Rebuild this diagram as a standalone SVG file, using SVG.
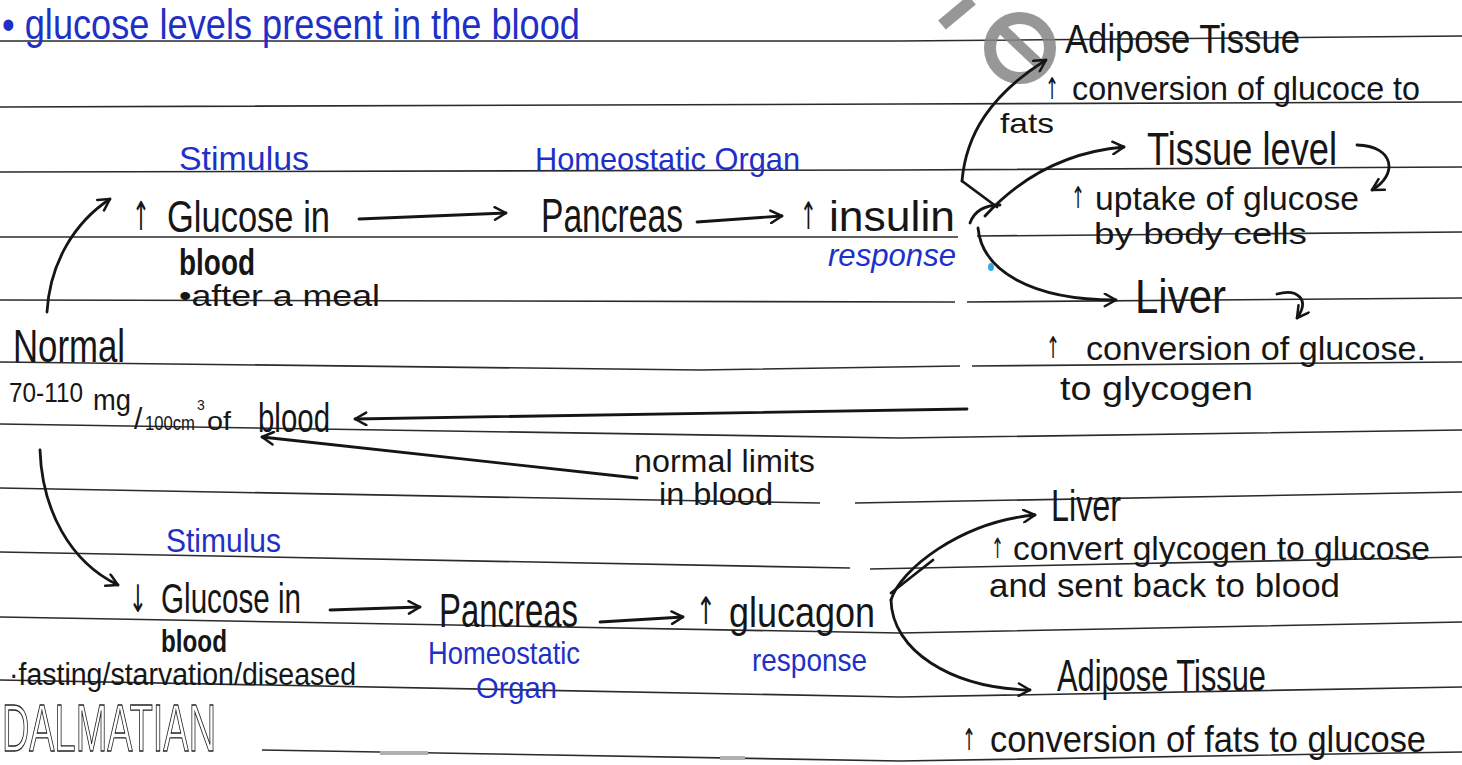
<svg xmlns="http://www.w3.org/2000/svg" width="1462" height="765" viewBox="0 0 1462 765">
<defs>
<marker id="ah" viewBox="0 0 12 12" refX="10.5" refY="6" markerWidth="15" markerHeight="15" markerUnits="userSpaceOnUse" orient="auto">
<path d="M1.5,1 L10.5,6 L1.5,11" fill="none" stroke="#151515" stroke-width="2" stroke-linecap="round" stroke-linejoin="round"/>
</marker>
<style>
.rule{fill:none;stroke:#2b2b2b;stroke-width:1.6}
.c{fill:none;stroke:#151515;stroke-width:2.8;stroke-linecap:round;stroke-linejoin:round}
.ca{fill:none;stroke:#151515;stroke-width:2.8;stroke-linecap:round;stroke-linejoin:round;marker-end:url(#ah)}
text{font-family:"Liberation Sans","DejaVu Sans",sans-serif}
text.ar{font-family:"DejaVu Sans",sans-serif;fill:#161616}
.k{fill:#161616}
.b{fill:#1e30c6}
.bi{fill:#1e30c6;font-style:italic}
</style>
</defs>
<rect width="1462" height="765" fill="#ffffff"/>

<g id="ruled-lines">
<polyline class="rule" points="0,41 900,41 1462,36"/>
<polyline class="rule" points="0,107 900,104 1462,102"/>
<polyline class="rule" points="0,172 900,170 1462,167"/>
<polyline class="rule" points="0,237 958,237"/>
<polyline class="rule" points="977,236 1462,232"/>
<polyline class="rule" points="0,300 955,302"/>
<polyline class="rule" points="967,302 1462,298"/>
<polyline class="rule" points="0,362 700,370 960,366"/>
<polyline class="rule" points="972,366 1462,362"/>
<polyline class="rule" points="0,424 900,438 1462,430"/>
<polyline class="rule" points="0,488 820,503"/>
<polyline class="rule" points="855,503 1462,492"/>
<polyline class="rule" points="0,552 850,568"/>
<polyline class="rule" points="870,569 1462,557"/>
<polyline class="rule" points="0,617 900,633 1462,622"/>
<polyline class="rule" points="0,680 900,697 1462,687"/>
<polyline class="rule" points="262,750 900,761 1462,752"/>
<rect x="380" y="751" width="48" height="4" fill="#b0b0b0"/>
<rect x="720" y="756" width="25" height="4" fill="#b0b0b0"/>
</g>

<g id="watermark" opacity="0.85">
<line x1="942" y1="25" x2="972" y2="0" stroke="#858585" stroke-width="12"/>
<circle cx="1020" cy="48" r="30" fill="none" stroke="#858585" stroke-width="12"/>
<line x1="1001" y1="28" x2="1041" y2="66" stroke="#858585" stroke-width="11"/>
</g>

<g id="connectors">
<path class="ca" d="M47,312 C50,262 75,222 110,199"/>
<path class="ca" d="M40,450 C42,510 70,562 118,585"/>
<path class="ca" d="M359,219 L506,213"/>
<path class="ca" d="M697,222 L782,216"/>
<path class="c" d="M997,207 L962,181"/>
<path class="ca" d="M962,181 C966,135 990,95 1046,60"/>
<path class="ca" d="M985,216 C1020,178 1065,152 1124,147"/>
<path class="c" d="M970,223 C974,212 984,205 1000,205"/>
<path class="ca" d="M978,228 C982,270 1030,300 1116,300"/>
<path class="ca" d="M1357,145 C1395,146 1398,175 1372,190"/>
<path class="ca" d="M1277,294 C1298,288 1310,300 1297,318"/>
<path class="ca" d="M967,409 L355,419"/>
<path class="ca" d="M637,478 L262,437"/>
<path class="ca" d="M330,610 L420,607"/>
<path class="ca" d="M600,622 L683,617"/>
<path class="c" d="M933,560 L891,593"/>
<path class="ca" d="M891,600 C900,570 960,522 1035,515"/>
<path class="ca" d="M891,600 C892,650 950,688 1030,690"/>
<ellipse cx="991" cy="267" rx="3" ry="4" fill="#3aa8e0"/>
</g>

<g id="title">
<text class="b" x="2" y="39" font-size="42" textLength="578" lengthAdjust="spacingAndGlyphs">• glucose levels present in the blood</text>
</g>

<g id="stimulus-high">
<text class="b" x="179" y="170" font-size="34" textLength="130" lengthAdjust="spacingAndGlyphs">Stimulus</text>
<text class="ar" x="132" y="230" font-size="40" textLength="18" lengthAdjust="spacingAndGlyphs">↑</text>
<text class="k" x="167" y="232" font-size="44" textLength="163" lengthAdjust="spacingAndGlyphs">Glucose in</text>
<text class="k" x="179" y="275" font-size="36" font-weight="bold" textLength="76" lengthAdjust="spacingAndGlyphs">blood</text>
<text class="k" x="179" y="306" font-size="30" textLength="201" lengthAdjust="spacingAndGlyphs">•after a meal</text>
</g>

<g id="pancreas-high">
<text class="b" x="535" y="170" font-size="32" textLength="265" lengthAdjust="spacingAndGlyphs">Homeostatic Organ</text>
<text class="k" x="541" y="232" font-size="48" textLength="142" lengthAdjust="spacingAndGlyphs">Pancreas</text>
</g>

<g id="insulin">
<text class="ar" x="800" y="229" font-size="38" textLength="17" lengthAdjust="spacingAndGlyphs">↑</text>
<text class="k" x="829" y="231" font-size="42" textLength="126" lengthAdjust="spacingAndGlyphs">insulin</text>
<text class="bi" x="828" y="266" font-size="32" textLength="128" lengthAdjust="spacingAndGlyphs">response</text>
</g>

<g id="adipose-high">
<text class="k" x="1065" y="53" font-size="40" textLength="235" lengthAdjust="spacingAndGlyphs">Adipose Tissue</text>
<text class="ar" x="1045" y="99" font-size="30" textLength="14" lengthAdjust="spacingAndGlyphs">↑</text>
<text class="k" x="1072" y="100" font-size="34" textLength="348" lengthAdjust="spacingAndGlyphs">conversion of glucoce to</text>
<text class="k" x="1000" y="133" font-size="28" textLength="54" lengthAdjust="spacingAndGlyphs">fats</text>
</g>

<g id="tissue-level">
<text class="k" x="1147" y="165" font-size="46" textLength="190" lengthAdjust="spacingAndGlyphs">Tissue level</text>
<text class="ar" x="1071" y="208" font-size="30" textLength="14" lengthAdjust="spacingAndGlyphs">↑</text>
<text class="k" x="1095" y="210" font-size="34" textLength="264" lengthAdjust="spacingAndGlyphs">uptake of glucose</text>
<text class="k" x="1094" y="244" font-size="30" textLength="213" lengthAdjust="spacingAndGlyphs">by body cells</text>
</g>

<g id="liver-high">
<text class="k" x="1135" y="313" font-size="48" textLength="91" lengthAdjust="spacingAndGlyphs">Liver</text>
<text class="ar" x="1046" y="358" font-size="30" textLength="14" lengthAdjust="spacingAndGlyphs">↑</text>
<text class="k" x="1086" y="360" font-size="34" textLength="340" lengthAdjust="spacingAndGlyphs">conversion of glucose.</text>
<text class="k" x="1060" y="400" font-size="34" textLength="193" lengthAdjust="spacingAndGlyphs">to glycogen</text>
</g>

<g id="normal">
<text class="k" x="13" y="362" font-size="46" textLength="112" lengthAdjust="spacingAndGlyphs">Normal</text>
<text class="k" x="9" y="402" font-size="28" textLength="74" lengthAdjust="spacingAndGlyphs">70-110</text>
<text class="k" x="93" y="410" font-size="30" textLength="38" lengthAdjust="spacingAndGlyphs">mg</text>
<text class="k" x="134" y="429" font-size="30">/</text>
<text class="k" x="145" y="430" font-size="20" textLength="50" lengthAdjust="spacingAndGlyphs">100cm</text>
<text class="k" x="197" y="410" font-size="14">3</text>
<text class="k" x="207" y="430" font-size="26" textLength="24" lengthAdjust="spacingAndGlyphs">of</text>
<text class="k" x="258" y="432" font-size="40" textLength="72" lengthAdjust="spacingAndGlyphs">blood</text>
</g>

<g id="normal-limits">
<text class="k" x="634" y="472" font-size="31" textLength="181" lengthAdjust="spacingAndGlyphs">normal limits</text>
<text class="k" x="659" y="505" font-size="31" textLength="114" lengthAdjust="spacingAndGlyphs">in blood</text>
</g>

<g id="stimulus-low">
<text class="b" x="166" y="552" font-size="34" textLength="115" lengthAdjust="spacingAndGlyphs">Stimulus</text>
<text class="ar" x="129" y="612" font-size="38" textLength="18" lengthAdjust="spacingAndGlyphs">↓</text>
<text class="k" x="161" y="613" font-size="42" textLength="140" lengthAdjust="spacingAndGlyphs">Glucose in</text>
<text class="k" x="161" y="652" font-size="32" font-weight="bold" textLength="66" lengthAdjust="spacingAndGlyphs">blood</text>
<text class="k" x="9" y="685" font-size="31" textLength="347" lengthAdjust="spacingAndGlyphs">·fasting/starvation/diseased</text>
</g>

<g id="pancreas-low">
<text class="k" x="439" y="627" font-size="48" textLength="139" lengthAdjust="spacingAndGlyphs">Pancreas</text>
<text class="b" x="428" y="664" font-size="32" textLength="152" lengthAdjust="spacingAndGlyphs">Homeostatic</text>
<text class="b" x="476" y="698" font-size="30" textLength="81" lengthAdjust="spacingAndGlyphs">Organ</text>
</g>

<g id="glucagon">
<text class="ar" x="696" y="624" font-size="38" textLength="20" lengthAdjust="spacingAndGlyphs">↑</text>
<text class="k" x="729" y="627" font-size="42" textLength="146" lengthAdjust="spacingAndGlyphs">glucagon</text>
<text class="b" x="752" y="671" font-size="32" textLength="115" lengthAdjust="spacingAndGlyphs">response</text>
</g>

<g id="liver-low">
<text class="k" x="1051" y="521" font-size="44" textLength="70" lengthAdjust="spacingAndGlyphs">Liver</text>
<text class="ar" x="991" y="558" font-size="28" textLength="13" lengthAdjust="spacingAndGlyphs">↑</text>
<text class="k" x="1013" y="560" font-size="34" textLength="417" lengthAdjust="spacingAndGlyphs">convert glycogen to glucose</text>
<text class="k" x="989" y="597" font-size="34" textLength="351" lengthAdjust="spacingAndGlyphs">and sent back to blood</text>
</g>

<g id="adipose-low">
<text class="k" x="1057" y="691" font-size="44" textLength="209" lengthAdjust="spacingAndGlyphs">Adipose Tissue</text>
<text class="ar" x="962" y="750" font-size="30" textLength="14" lengthAdjust="spacingAndGlyphs">↑</text>
<text class="k" x="990" y="752" font-size="36" textLength="436" lengthAdjust="spacingAndGlyphs">conversion of fats to glucose</text>
</g>

<g id="brand">
<text x="2" y="751" font-size="66" fill="#ffffff" stroke="#222222" stroke-width="1.3" textLength="214" lengthAdjust="spacingAndGlyphs">DALMATIAN</text>
</g>
</svg>
